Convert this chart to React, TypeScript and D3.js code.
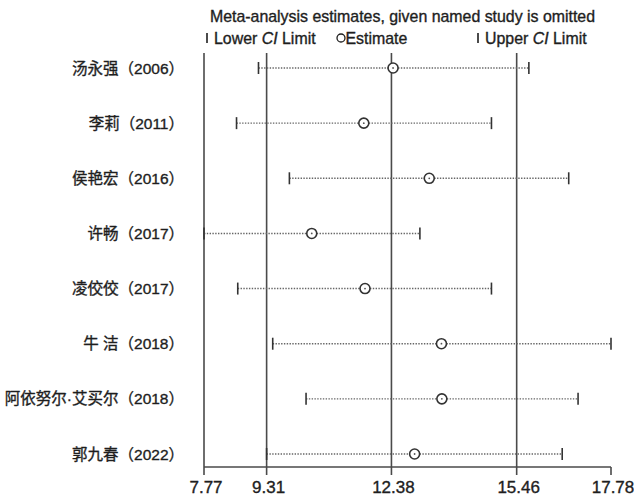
import React from "react";
import * as d3 from "d3";

const studies = [
  "汤永强（2006）",
  "李莉（2011）",
  "侯艳宏（2016）",
  "许畅（2017）",
  "凌佼佼（2017）",
  "牛 洁（2018）",
  "阿依努尔·艾买尔（2018）",
  "郭九春（2022）",
];
const lowerCI = [9.11, 8.57, 9.87, 7.77, 8.6, 9.46, 10.28, 9.31];
const estimates = [12.42, 11.7, 13.31, 10.42, 11.73, 13.61, 13.62, 12.95];
const upperCI = [15.76, 14.84, 16.74, 13.08, 14.84, 17.78, 16.97, 16.58];
const tickValues = [7.77, 9.31, 12.38, 15.46, 17.78];
const refLines = [7.77, 9.31, 12.38, 15.46];

const W = 634;
const H = 497;

export default function App() {
  const x = d3.scaleLinear().domain([7.77, 17.78]).range([204, 611]);
  const y = d3
    .scalePoint<string>()
    .domain(studies)
    .range([68, 454]);
  const axisY = 467;
  const topY = 53;
  const lineColor = "#4a4a4a";
  const textColor = "#1e1e1e";
  const font = "'Liberation Sans', Arial, sans-serif";
  const cjkFont = "'Liberation Sans', 'Noto Sans CJK SC', sans-serif";
  const weight = { stroke: textColor, strokeWidth: 0.35 };

  return (
    <svg
      width={W}
      height={H}
      style={{ position: "absolute", left: 0, top: 0, background: "#fff" }}
    >
      {/* title */}
      <text
        x={402.5}
        y={22}
        textAnchor="middle"
        fontFamily={font}
        fontSize={15.9}
        fill={textColor}
        {...weight}
      >
        Meta-analysis estimates, given named study is omitted
      </text>
      {/* legend */}
      <g fontFamily={font} fontSize={15.9} fill={textColor}>
        <line x1={207} x2={207} y1={33} y2={43} stroke={textColor} strokeWidth={1.6} />
        <text x={214} y={43.5} {...weight}>
          Lower <tspan fontStyle="italic">CI</tspan> Limit
        </text>
        <circle cx={341} cy={38} r={4} fill="none" stroke={textColor} strokeWidth={1.3} />
        <text x={345.5} y={43.5} {...weight}>Estimate</text>
        <line x1={478} x2={478} y1={33} y2={43} stroke={textColor} strokeWidth={1.6} />
        <text x={485} y={43.5} {...weight}>
          Upper <tspan fontStyle="italic">CI</tspan> Limit
        </text>
      </g>

      {/* reference vertical lines */}
      {refLines.map((v) => (
        <line
          key={v}
          x1={x(v)}
          x2={x(v)}
          y1={topY}
          y2={axisY}
          stroke={lineColor}
          strokeWidth={1.6}
        />
      ))}

      {/* axis */}
      <line x1={x(7.77)} x2={x(17.78)} y1={axisY} y2={axisY} stroke={lineColor} strokeWidth={1.6} />
      {tickValues.map((v) => (
        <g key={v}>
          <line x1={x(v)} x2={x(v)} y1={axisY} y2={axisY + 8} stroke={lineColor} strokeWidth={1.6} />
          <text
            x={x(v) + 2}
            y={493}
            textAnchor="middle"
            fontFamily={font}
            fontSize={17}
            fill={textColor}
            {...weight}
          >
            {v.toFixed(2)}
          </text>
        </g>
      ))}

      {/* rows */}
      {studies.map((s, i) => {
        const yy = y(s) as number;
        return (
          <g key={s}>
            <text
              x={184}
              y={yy + 5.5}
              textAnchor="end"
              fontFamily={cjkFont}
              fontSize={15.5}
              fill={textColor}
              {...weight}
            >
              {s}
            </text>
            <line
              x1={x(lowerCI[i])}
              x2={x(estimates[i]) - 5}
              y1={yy}
              y2={yy}
              stroke="#666"
              strokeWidth={1.4}
              strokeDasharray="1.4,1.4"
            />
            <line
              x1={x(estimates[i]) + 5}
              x2={x(upperCI[i])}
              y1={yy}
              y2={yy}
              stroke="#666"
              strokeWidth={1.4}
              strokeDasharray="1.4,1.4"
            />
            <line
              x1={x(lowerCI[i])}
              x2={x(lowerCI[i])}
              y1={yy - 6}
              y2={yy + 6}
              stroke="#333"
              strokeWidth={1.6}
            />
            <line
              x1={x(upperCI[i])}
              x2={x(upperCI[i])}
              y1={yy - 6}
              y2={yy + 6}
              stroke="#333"
              strokeWidth={1.6}
            />
            <circle
              cx={x(estimates[i])}
              cy={yy}
              r={5}
              fill="#fff"
              stroke="#333"
              strokeWidth={1.6}
            />
            <circle cx={x(estimates[i])} cy={yy} r={0.9} fill="#555" />
          </g>
        );
      })}
    </svg>
  );
}
